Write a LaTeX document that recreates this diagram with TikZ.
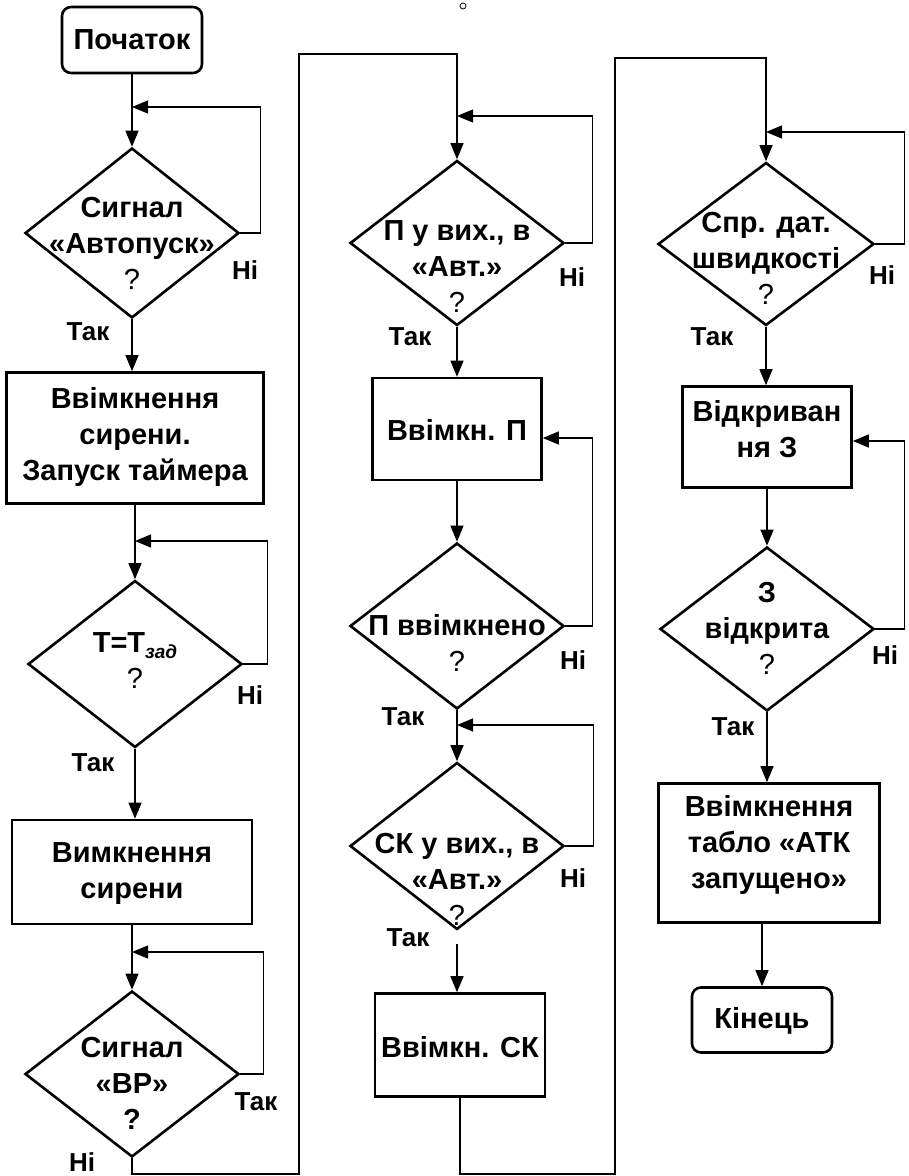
\documentclass[tikz,border=0pt]{standalone}
\usepackage{fontspec}
\setmainfont{Liberation Sans}
\usepackage{tikz}
\usetikzlibrary{arrows.meta,shapes.geometric}
\tikzset{every node/.append style={font=\bfseries}}
\tikzset{
  dec/.style={draw,diamond,line width=2.6pt,minimum width=214pt,minimum height=166pt,inner sep=0pt},
  blk/.style={draw,rectangle,line width=2.6pt,inner sep=0pt},
  term/.style={blk,rounded corners=9pt},
  txt/.style={align=center,font=\bfseries\fontsize{29}{36}\selectfont},
  ans/.style={font=\bfseries\fontsize{26}{26}\selectfont},
  flow/.style={->,line width=1.2pt},
}

\begin{document}
\begin{tikzpicture}[x=1pt,y=-1pt,>={Triangle[length=16pt,width=13pt]}]
\useasboundingbox (0,0) rectangle (909,1176);
\draw[line width=.8pt] (463,6) circle[radius=3pt];
% column 1
\node[term,minimum width=140pt,minimum height=66pt] (start) at (132,40) {};
\node[txt] (startt) at (132,40) {Початок};
\node[dec,minimum height=170pt] (d1) at (132,233) {};
\node[txt] (d1t) at (132,243) {Сигнал\\«Автопуск»\\\mdseries ?};
\node[blk,minimum width=257pt,minimum height=131pt] (b2) at (135,438) {};
\node[txt] (b2t) at (135,437) {Ввімкнення\\сирени.\\Запуск таймера};
\node[dec,minimum height=167pt] (d2) at (135,664) {};
\node[txt] (d2t) at (135,661) {T=T\raisebox{-.35ex}{\fontsize{19}{19}\selectfont\itshape зад}\\\mdseries ?};
\node[blk,minimum width=240pt,minimum height=104pt] (b3) at (132,872) {};
\node[txt] (b3t) at (132,874) {Вимкнення\\сирени};
\node[dec] (d3) at (132,1074) {};
\node[txt] (d3t) at (132,1083) {Сигнал\\«ВР»\\?};
\coordinate (j1) at (132,107);
\coordinate (j2) at (135,541);
\coordinate (j3) at (132,952);
\draw[flow] (start) -- (d1);
\draw[flow] (d1.east) -- ++(20,0) |- (j1);
\draw[flow] (d1.south) -- (b2.north -| d1.south);
\draw[flow] (b2) -- (d2);
\draw[flow] (d2.east) -- ++(24,0) |- (j2);
\draw[flow] (d2.south) -- (b3.north -| d2.south);
\draw[flow] (b3) -- (d3);
\draw[flow] (d3.east) -- ++(23,0) |- (j3);
\node[ans] (n1) at (245,270) {Ні};
\node[ans] (y1) at (88,332) {Так};
\node[ans] (n2) at (250,695) {Ні};
\node[ans] (y2) at (93,763) {Так};
\node[ans] (y3) at (256,1102) {Так};
\node[ans] (n3) at (82,1162) {Ні};
% column 2
\node[dec,minimum height=165pt] (d4) at (457,243) {};
\node[txt] (d4t) at (457,267) {П у вих., в\\«Авт.»\\\mdseries ?};
\node[blk,minimum width=169pt,minimum height=102pt] (bP) at (457,429) {};
\node[txt] (bPt) at (457,430) {Ввімкн. П};
\node[dec] (d5) at (457,626) {};
\node[txt] (d5t) at (457,643) {П ввімкнено\\\mdseries ?};
\node[dec,minimum height=167pt] (d6) at (457,846) {};
\node[txt] (d6t) at (457,879) {СК у вих., в\\«Авт.»\\\mdseries ?};
\node[blk,minimum width=170pt,minimum height=103pt] (bSK) at (460,1045) {};
\node[txt] (bSKt) at (460,1047) {Ввімкн. СК};
\coordinate (k1) at (299,1174);
\coordinate (k2) at (299,54);
\coordinate (j4) at (457,116);
\coordinate (j6) at (457,725);
\draw[flow] (d3.south) |- (k1) -- (k2) -| (d4.north);
\draw[flow] (d4.east) -- ++(27,0) |- (j4);
\draw[flow] (d4) -- (bP);
\draw[flow] (bP) -- (d5);
\draw[flow] (d5.east) -- ++(27,0) |- ([yshift=-9pt]bP.east);
\draw[flow] (d5) -- (d6);
\draw[flow] (d6.east) -- ++(28,0) |- (j6);
\draw[flow] ([yshift=-13pt]d6.south) -- (bSK.north -| d6.south);
\node[ans] (n4) at (572,277) {Ні};
\node[ans] (y4) at (410,337) {Так};
\node[ans] (n5) at (573,660) {Ні};
\node[ans] (y5) at (403,717) {Так};
\node[ans] (n6) at (573,878) {Ні};
\node[ans] (y6) at (408,938) {Так};
% column 3
\node[dec,minimum width=216pt,minimum height=163pt] (d7) at (766,244) {};
\node[txt] (d7t) at (766,258) {Спр. дат.\\швидкості\\\mdseries ?};
\node[blk,minimum width=169pt,minimum height=101pt] (bV) at (767,437) {};
\node[txt] (bVt) at (767,429) {Відкриван\\ня З};
\node[dec,minimum height=164pt] (d8) at (767,629) {};
\node[txt] (d8t) at (767,628) {З\\відкрита\\\mdseries ?};
\node[blk,minimum width=221pt,minimum height=139pt] (bT) at (769,853) {};
\node[txt] (bTt) at (769,845) {Ввімкнення\\табло «АТК\\запущено»};
\node[term,minimum width=140pt,minimum height=65pt] (fin) at (762,1020) {};
\node[txt] (fint) at (762,1021) {Кінець};
\coordinate (k3) at (615,1174);
\coordinate (k4) at (615,58);
\coordinate (j7) at (766,132);
\draw[flow] (bSK.south) |- (k3) -- (k4) -| (d7.north);
\draw[flow] (d7.east) -- ++(29,0) |- (j7);
\draw[flow] (d7.south) -- (bV.north -| d7.south);
\draw[flow] (bV.south -| d8.north) -- (d8);
\draw[flow] (d8.east) -- ++(29,0) |- ([yshift=-4pt]bV.east);
\draw[flow] (d8.south) -- (bT.north -| d8.south);
\draw[flow] (bT.south -| fin.north) -- (fin);
\node[ans] (n7) at (882,275) {Ні};
\node[ans] (y7) at (712,337) {Так};
\node[ans] (n8) at (885,655) {Ні};
\node[ans] (y8) at (733,727) {Так};
\end{tikzpicture}
\end{document}
